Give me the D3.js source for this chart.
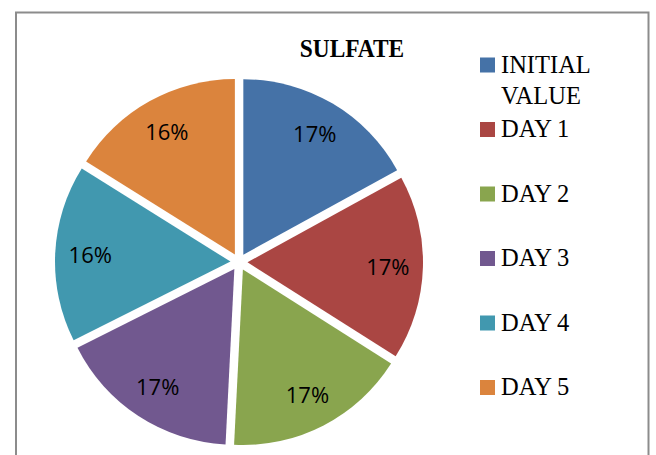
<!DOCTYPE html>
<html>
<head>
<meta charset="utf-8">
<script src="https://cdn.jsdelivr.net/npm/d3@7"></script>
<style>
  body { margin: 0; background: #fff; }
  svg { display: block; }
</style>
</head>
<body>
<div id="chart"></div>
<script>
// dữ liệu
const categories = ["INITIAL VALUE", "DAY 1", "DAY 2", "DAY 3", "DAY 4", "DAY 5"];
const sulfateValues = [17.0, 17.0, 16.8, 16.8, 16.3, 16.1];
const pctLabels = ["17%", "17%", "17%", "17%", "16%", "16%"];
const sliceColors = ["#4572A7", "#AA4643", "#89A54E", "#71588F", "#4198AF", "#DB843D"];

const width = 656, height = 455;

const svg = d3.select("#chart")
  .append("svg")
  .attr("width", width)
  .attr("height", height);

// khung viền
svg.append("rect")
  .attr("x", 16)
  .attr("y", 12.5)
  .attr("width", 632.5)
  .attr("height", 460)
  .attr("fill", "none")
  .attr("stroke", "#8c8c8c")
  .attr("stroke-width", 2);

// tiêu đề
svg.append("text")
  .attr("transform", "translate(352, 57) scale(0.9, 1)")
  .attr("text-anchor", "middle")
  .style("font-family", "'Liberation Serif', serif")
  .style("font-weight", "bold")
  .style("font-size", "26px")
  .text("SULFATE");

// biểu đồ tròn
const cx = 239, cy = 262;
const radius = 175.5;
const explode = 8.5;

const pie = d3.pie().sort(null).value(d => d.value);
const arc = d3.arc().innerRadius(0).outerRadius(radius);
const dataSet = categories.map((c, i) => ({ name: c, value: sulfateValues[i], label: pctLabels[i], color: sliceColors[i] }));
const arcs = pie(dataSet);

const pieGroup = svg.append("g").attr("transform", `translate(${cx}, ${cy})`);

const slice = pieGroup.selectAll(".slice")
  .data(arcs)
  .enter()
  .append("g")
  .attr("class", "slice")
  .attr("transform", d => {
    const a = (d.startAngle + d.endAngle) / 2;
    return `translate(${explode * Math.sin(a)}, ${-explode * Math.cos(a)})`;
  });

slice.append("path")
  .attr("d", arc)
  .attr("fill", d => d.data.color);

const labelArc = d3.arc().innerRadius(radius * 0.8).outerRadius(radius * 0.8);

slice.append("text")
  .attr("transform", d => `translate(${labelArc.centroid(d)})`)
  .attr("text-anchor", "middle")
  .attr("dy", "0.38em")
  .style("font-family", "'Open Sans', sans-serif")
  .style("font-size", "22px")
  .style("fill", "#000")
  .text(d => d.data.label);

// chú giải
const legendX = 480;
const firstBaseline = 72.5;
const rowStep = 64.5;

const legend = svg.append("g").attr("class", "legend");

const legendRow = legend.selectAll(".legend-row")
  .data(dataSet)
  .enter()
  .append("g")
  .attr("class", "legend-row")
  .attr("transform", (d, i) => `translate(${legendX}, ${firstBaseline + i * rowStep})`);

legendRow.append("rect")
  .attr("x", 0)
  .attr("y", -15)
  .attr("width", 15)
  .attr("height", 15)
  .attr("fill", d => d.color);

legendRow.append("text")
  .attr("x", 21)
  .attr("y", 0)
  .style("font-family", "'Liberation Serif', serif")
  .style("font-size", "24.5px")
  .style("fill", "#000")
  .each(function(d) {
    const words = d.name.split(" ");
    const lines = d.name === "INITIAL VALUE" ? words : [d.name];
    d3.select(this).selectAll("tspan")
      .data(lines)
      .enter()
      .append("tspan")
      .attr("x", 21)
      .attr("dy", (t, j) => j === 0 ? 0 : 31)
      .text(t => t);
  });
</script>
</body>
</html>
